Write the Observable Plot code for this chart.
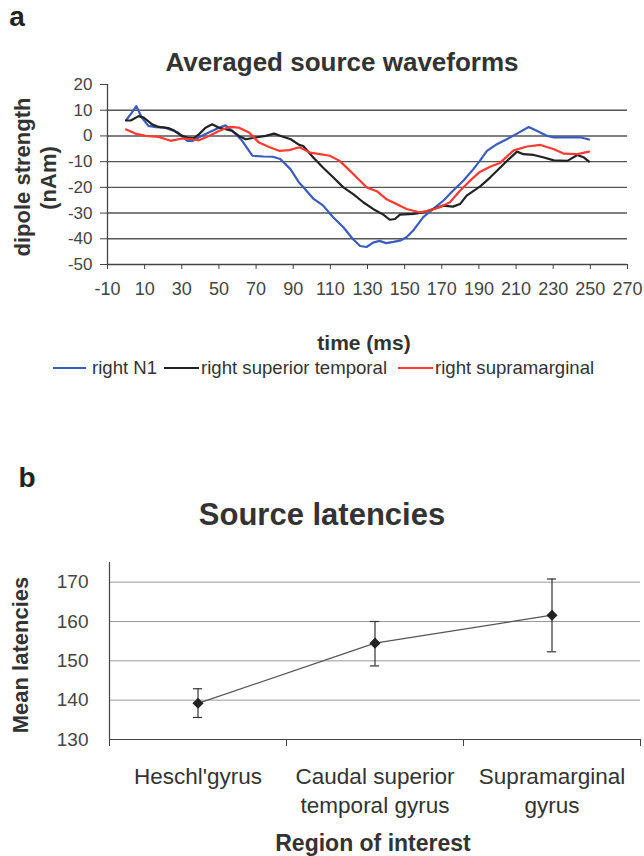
<!DOCTYPE html>
<html><head><meta charset="utf-8">
<script src="https://cdn.jsdelivr.net/npm/d3@7"></script>
<script src="https://cdn.jsdelivr.net/npm/@observablehq/plot@0.6"></script>
<style>
html,body{margin:0;padding:0;background:#fff;}
#page{position:relative;width:644px;height:856px;overflow:hidden;font-family:"Liberation Sans",Arial,sans-serif;color:#333;}
.abs{position:absolute;white-space:nowrap;line-height:1;}
.chart{position:absolute;left:0;}
</style></head><body><div id="page"></div>
<script>
// ---------- Panel a data ----------
const seriesNames = ["right N1", "right superior temporal", "right supramarginal"];
const seriesColors = ["#3a5cbc", "#222222", "#ff3a30"];

const n1Times  = [0,3,5.5,8.5,12,16,21,28,33,36,39,44.5,50,53.5,57,62.5,68,74,79,83,88.5,93,95.5,101,106,111.5,117,122,126,129.5,133,136.5,140,144,148,151,154.6,160,165.4,170.8,176,181.6,187,190.5,194.3,199.7,205,210.5,216.8,221.4,226.8,230.4,237.6,244.8,249.3];
const n1Values = [6.1,9,11.6,7.1,3.9,3.4,3.2,1.3,-1.9,-1.9,-0.6,1.3,3.2,4.1,2.2,-1.9,-7.7,-8,-8.1,-9,-12.9,-18,-20,-24.5,-27,-31.6,-35.5,-40,-42.8,-43.2,-41.5,-40.8,-41.7,-41.2,-40.6,-39.4,-36.8,-31.6,-28.4,-25.2,-21.3,-17.4,-12.9,-9.7,-5.8,-3.2,-1.3,0.9,3.5,1.9,0,-0.6,-0.6,-0.6,-1.4];

const stTimes  = [0,2.5,6.8,9.5,14,17.6,23,25.7,29.3,33,36.5,39.2,42.8,46.4,50,53.6,57.2,60.8,64.4,69.8,75.2,79.7,83.3,88.7,93.2,95.4,100.8,106,111.5,117,122.3,127.7,133,138.5,142,144.8,147.5,154.6,160,165.4,170.8,176,179.8,183.4,188.7,191,196,201.5,206,210.5,214,219.5,225,230.4,237.6,243,246.6,249.3];
const stValues = [6,6,7.7,7.1,4.5,3.5,3,2.2,0.3,-0.6,-0.9,0.6,3.2,4.5,3.2,2.6,1.9,0,-1.3,-0.6,0,0.9,0,-1.3,-3.5,-3.9,-8.4,-12.3,-16.1,-20,-22.6,-25.8,-28.4,-30.6,-32.6,-32.3,-30.6,-30.3,-29.7,-28.4,-27.1,-27.5,-26.5,-23.2,-20.6,-19.4,-16.2,-12.3,-9.1,-6.1,-7.1,-7.4,-8.4,-9.5,-9.7,-7.4,-8.4,-10];

const smTimes  = [0,5,10.4,17.6,24,30.2,35.6,39.2,44.6,50,55.4,60.8,66.2,71.6,77,82.4,87.8,93.4,99,104.4,109.7,115,120.5,126,129.5,135,140,145.6,151,158,163.6,169,174.4,179.8,185.2,190.5,196,201.5,208.7,215.9,223.2,230.4,235.8,243,249.3];
const smValues = [2.5,0.9,0,-0.4,-1.9,-1,-1.3,-1.7,0,1.9,3.5,3.2,1.3,-2.6,-4.3,-5.8,-5.5,-4.4,-6.5,-7.1,-7.7,-9.7,-13.5,-17.4,-20,-21.5,-24.5,-26.5,-28.4,-29.7,-29,-27.7,-25.8,-21.3,-17.4,-14,-12,-10.4,-5.6,-4.1,-3.5,-5.2,-6.9,-7.1,-6.1];

const waveXTicks = [-10,10,30,50,70,90,110,130,150,170,190,210,230,250,270];
const waveYTicks = [20,10,0,-10,-20,-30,-40,-50];

// ---------- Panel b data ----------
const regions = ["Heschl'gyrus", "Caudal superior\ntemporal gyrus", "Supramarginal\ngyrus"];
const latencyMeans = [139.2, 154.5, 161.6];
const latencyLow   = [135.6, 148.7, 152.3];
const latencyHigh  = [142.9, 160.0, 170.8];
const latencyTicks = [130, 140, 150, 160, 170];

// ---------- helpers ----------
const page = document.getElementById("page");
function addText(txt, cx, cy, opts = {}) {
  const d = document.createElement("div");
  d.className = "abs";
  d.textContent = txt;
  d.style.left = cx + "px";
  d.style.top = cy + "px";
  d.style.fontSize = (opts.size || 16) + "px";
  d.style.fontWeight = opts.bold ? "bold" : "normal";
  d.style.color = opts.color || "#333";
  d.style.transform = "translate(-50%,-50%)" + (opts.rotate ? " rotate(-90deg)" : "");
  page.appendChild(d);
  return d;
}
function addSwatch(x1, x2, cy, color) {
  const d = document.createElement("div");
  d.style.position = "absolute";
  d.style.left = x1 + "px";
  d.style.width = (x2 - x1) + "px";
  d.style.top = (cy - 1.25) + "px";
  d.style.height = "2.5px";
  d.style.background = color;
  page.appendChild(d);
}

// ---------- Panel a ----------
const waveRows = [];
[[n1Times, n1Values], [stTimes, stValues], [smTimes, smValues]].forEach(([ts, vs], i) => {
  ts.forEach((t, j) => waveRows.push({series: seriesNames[i], t, v: vs[j]}));
});

const chartA = Plot.plot({
  width: 644, height: 240,
  marginTop: 14, marginBottom: 46, marginLeft: 107, marginRight: 17,
  style: {fontFamily: '"Liberation Sans", Arial, sans-serif', fontSize: "18px", color: "#444", background: "transparent"},
  x: {domain: [-10, 270]},
  y: {domain: [-50, 20]},
  color: {domain: seriesNames, range: seriesColors},
  marks: [
    Plot.ruleY(waveYTicks.filter(v => v > -50 && v < 20), {stroke: "#555", strokeWidth: 1.4}),
    Plot.axisY({ticks: waveYTicks, tickSize: 7, tickPadding: 8, label: null, tickFormat: d => String(d), fill: "#444", fontSize: 17}),
    Plot.axisX({ticks: waveXTicks, tickSize: 5, tickPadding: 13, label: null, tickFormat: d => String(d), fill: "#444"}),
    Plot.ruleX([-10], {stroke: "#444", strokeWidth: 1.3}),
    Plot.ruleY([-50], {stroke: "#444", strokeWidth: 1.3}),
    Plot.line(waveRows, {x: "t", y: "v", z: "series", stroke: "series", strokeWidth: 2.2})
  ]
});
chartA.classList.add("chart");
chartA.style.top = "70px";
page.appendChild(chartA);

addText("a", 17, 17, {size: 28, bold: true, color: "#222"});
addText("Averaged source waveforms", 342, 62, {size: 26, bold: true});
addText("dipole strength", 23, 177, {size: 22, bold: true, rotate: true});
addText("(nAm)", 49, 178, {size: 22, bold: true, rotate: true});
addText("time (ms)", 364, 342, {size: 21, bold: true});

// legend
const legendItems = [
  {sw: [53, 86], tx: 92},
  {sw: [164, 199], tx: 201},
  {sw: [398, 433], tx: 435}
];
legendItems.forEach((it, i) => {
  addSwatch(it.sw[0], it.sw[1], 368, seriesColors[i]);
  const d = addText(seriesNames[i], 0, 368, {size: 18.6});
  d.style.left = it.tx + "px";
  d.style.transform = "translate(0,-50%)";
});

// ---------- Panel b ----------
const latRows = regions.map((r, i) => ({pos: i + 0.5, label: r, mean: latencyMeans[i], low: latencyLow[i], high: latencyHigh[i]}));
const capHalf = 0.026;

const chartB = Plot.plot({
  width: 644, height: 306,
  marginTop: 12, marginBottom: 117, marginLeft: 109, marginRight: 4,
  style: {fontFamily: '"Liberation Sans", Arial, sans-serif', fontSize: "19px", color: "#444", background: "transparent"},
  x: {domain: [0, regions.length]},
  y: {domain: [130, 175]},
  marks: [
    Plot.ruleY(latencyTicks.filter(v => v > 130), {stroke: "#999", strokeWidth: 1}),
    Plot.axisY({ticks: latencyTicks, tickSize: 0, tickPadding: 21, label: null, fill: "#444"}),
    Plot.axisX({ticks: d3.range(0, regions.length + 1), tickSize: 7, tickFormat: () => "", label: null}),
    Plot.ruleX([0], {stroke: "#444", strokeWidth: 1.2}),
    Plot.ruleY([130], {stroke: "#444", strokeWidth: 1.2}),
    Plot.line(latRows, {x: "pos", y: "mean", stroke: "#555", strokeWidth: 1.2}),
    Plot.ruleX(latRows, {x: "pos", y1: "low", y2: "high", stroke: "#333", strokeWidth: 1.2}),
    Plot.ruleY(latRows, {y: "low", x1: d => d.pos - capHalf, x2: d => d.pos + capHalf, stroke: "#333", strokeWidth: 1.2}),
    Plot.ruleY(latRows, {y: "high", x1: d => d.pos - capHalf, x2: d => d.pos + capHalf, stroke: "#333", strokeWidth: 1.2}),
    Plot.dot(latRows, {x: "pos", y: "mean", symbol: "diamond2", r: 5, fill: "#222", stroke: "none"}),
    Plot.text(latRows, {x: "pos", text: "label", frameAnchor: "bottom", dy: 25, lineAnchor: "top", fontSize: 22.5, lineHeight: 1.25, fill: "#333"})
  ]
});
chartB.classList.add("chart");
chartB.style.top = "550px";
page.appendChild(chartB);

addText("b", 27, 478, {size: 28, bold: true, color: "#222"});
addText("Source latencies", 322, 514, {size: 31, bold: true});
addText("Mean latencies", 21, 655, {size: 22, bold: true, rotate: true});
addText("Region of interest", 373, 843, {size: 23, bold: true});
</script>
</body></html>
